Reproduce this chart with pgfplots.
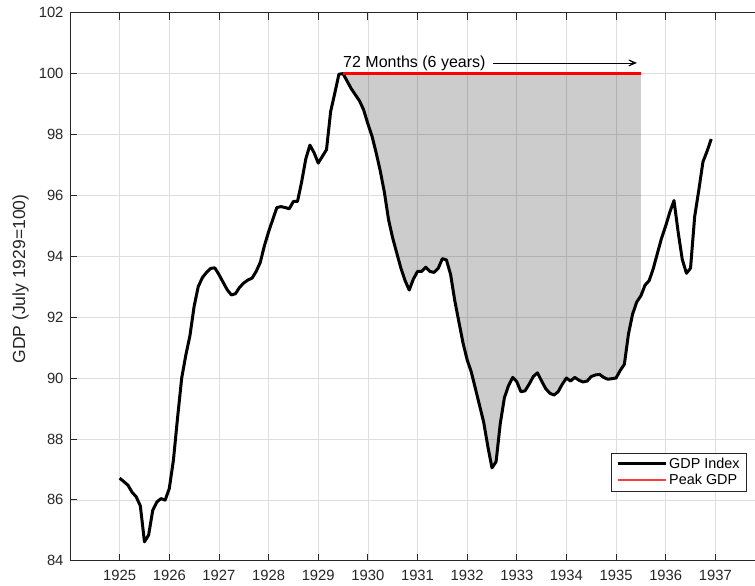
\documentclass[border=0pt]{standalone}
\usepackage{pgfplots}
\pgfplotsset{compat=1.18}
\usepackage{pgfplotstable}
\usepgfplotslibrary{fillbetween}
\usetikzlibrary{arrows.meta}
\usepackage{fontspec}
\setmainfont{Liberation Sans}
\definecolor{axgray}{RGB}{38,38,38}
\definecolor{peakred}{RGB}{255,0,0}
\definecolor{legred}{RGB}{255,60,60}

\pgfplotstableread{
x y
1925.000 86.71
1925.083 86.60
1925.167 86.48
1925.250 86.25
1925.333 86.10
1925.417 85.80
1925.500 84.62
1925.583 84.84
1925.667 85.66
1925.750 85.93
1925.833 86.04
1925.917 85.99
1926.000 86.37
1926.083 87.30
1926.167 88.70
1926.250 90.00
1926.333 90.75
1926.417 91.40
1926.500 92.35
1926.583 93.00
1926.667 93.30
1926.750 93.47
1926.833 93.60
1926.917 93.62
1927.000 93.40
1927.083 93.15
1927.167 92.90
1927.250 92.73
1927.333 92.77
1927.417 92.98
1927.500 93.12
1927.583 93.22
1927.667 93.28
1927.750 93.50
1927.833 93.80
1927.917 94.35
1928.000 94.80
1928.083 95.20
1928.167 95.60
1928.250 95.63
1928.333 95.60
1928.417 95.56
1928.500 95.80
1928.583 95.80
1928.667 96.45
1928.750 97.20
1928.833 97.65
1928.917 97.40
1929.000 97.06
1929.083 97.28
1929.167 97.50
1929.250 98.75
1929.333 99.35
1929.417 99.98
1929.500 100.00
1929.583 99.75
1929.667 99.50
1929.750 99.30
1929.833 99.10
1929.917 98.80
1930.000 98.35
1930.083 97.95
1930.167 97.40
1930.250 96.80
1930.333 96.10
1930.417 95.20
1930.500 94.60
1930.583 94.10
1930.667 93.60
1930.750 93.20
1930.833 92.89
1930.917 93.25
1931.000 93.50
1931.083 93.50
1931.167 93.64
1931.250 93.50
1931.333 93.47
1931.417 93.60
1931.500 93.92
1931.583 93.88
1931.667 93.40
1931.750 92.55
1931.833 91.85
1931.917 91.15
1932.000 90.60
1932.083 90.20
1932.167 89.65
1932.250 89.10
1932.333 88.55
1932.417 87.75
1932.500 87.05
1932.583 87.25
1932.667 88.50
1932.750 89.35
1932.833 89.75
1932.917 90.02
1933.000 89.88
1933.083 89.55
1933.167 89.58
1933.250 89.80
1933.333 90.05
1933.417 90.17
1933.500 89.90
1933.583 89.65
1933.667 89.50
1933.750 89.44
1933.833 89.55
1933.917 89.80
1934.000 90.00
1934.083 89.90
1934.167 90.02
1934.250 89.93
1934.333 89.87
1934.417 89.90
1934.500 90.05
1934.583 90.10
1934.667 90.12
1934.750 90.02
1934.833 89.96
1934.917 89.98
1935.000 90.00
1935.083 90.25
1935.167 90.45
1935.250 91.45
1935.333 92.10
1935.417 92.50
1935.500 92.70
1935.583 93.05
1935.667 93.20
1935.750 93.60
1935.833 94.10
1935.917 94.60
1936.000 95.00
1936.083 95.45
1936.167 95.83
1936.250 94.80
1936.333 93.90
1936.417 93.44
1936.500 93.61
1936.583 95.30
1936.667 96.18
1936.750 97.10
1936.833 97.45
1936.917 97.85
}\gdpdata

\begin{document}
\begin{tikzpicture}
\begin{axis}[
  scale only axis,
  width=695pt, height=548pt,
  xmin=1924, xmax=1938, ymin=84, ymax=102,
  xtick={1925,1926,1927,1928,1929,1930,1931,1932,1933,1934,1935,1936,1937},
  ytick={84,86,88,90,92,94,96,98,100,102},
  /pgf/number format/1000 sep={},
  /pgf/number format/assume math mode=true,
  tick label style={font=\fontsize{14.8}{17}\selectfont, text=axgray},
  xticklabel style={yshift=-6pt},
  yticklabel style={xshift=-3pt},
  tick align=inside,
  major tick length=7pt,
  major tick style={draw=axgray, line width=0.8pt},
  axis line style={draw=axgray, line width=0.8pt},
  grid=major,
  major grid style={draw={rgb,255:red,222;green,222;blue,222}, line width=0.6pt},
  ylabel={GDP (July 1929=100)},
  ylabel style={at={(axis description cs:-0.0709,0.514)}, anchor=center,
    font=\fontsize{17.5}{21}\selectfont, text=axgray},
  legend style={at={(0.974,0.127)}, anchor=south east, draw=axgray,
    line width=0.6pt, font=\fontsize{14.4}{17}\selectfont,
    inner xsep=5pt, inner ysep=3pt, cells={anchor=west}},
  legend cell align=left,
  legend image code/.code={\draw[#1] (0pt,0pt) -- (48pt,0pt);},
]
% invisible paths used only to bound the shaded area
\addplot[draw=none, name path=gdp, forget plot] table[x=x, y=y] {\gdpdata};
\addplot[draw=none, name path=peak, forget plot] coordinates {(1929.5,100) (1935.5,100)};
\addplot[fill=black, fill opacity=0.2, draw=none, forget plot]
  fill between[of=gdp and peak, soft clip={domain=1929.5:1935.5}];
% visible series
\addplot[draw=black, line width=3pt, line join=round] table[x=x, y=y] {\gdpdata};
\addlegendentry{GDP Index}
\addplot[draw=peakred, line width=2.6pt, forget plot] coordinates {(1929.5,100) (1935.5,100)};
\addlegendimage{draw=legred, line width=1.6pt}
\addlegendentry{Peak GDP}
\node[anchor=base west, inner sep=0pt, font=\fontsize{16}{19}\selectfont]
  at (axis cs:1929.5,100.2) {72 Months (6 years)};
\draw[-{Stealth[length=13pt,width=11pt,inset=9pt]}, line width=0.8pt]
  (axis cs:1932.53,100.35) -- (axis cs:1935.42,100.35);
\end{axis}
\pgfresetboundingbox
\path[use as bounding box] (-70pt,-25.3pt) rectangle (685pt,560.7pt);
\end{tikzpicture}
\end{document}
